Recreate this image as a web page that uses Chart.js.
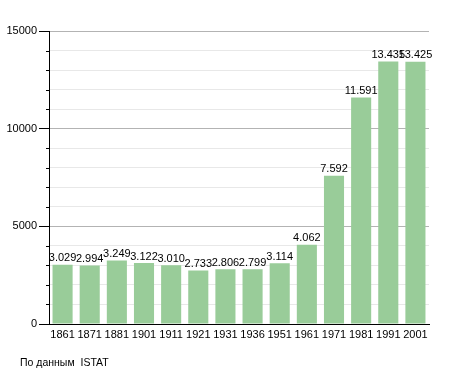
<!DOCTYPE html>
<html>
<head>
<meta charset="utf-8">
<script src="https://cdn.jsdelivr.net/npm/chart.js@4/dist/chart.umd.min.js"></script>
<style>
  body { margin: 0; background: #fff; }
  #wrap { position: relative; width: 455px; height: 373px; }
  #note { position: absolute; left: 20px; top: 356px; font: 10.5px "Liberation Sans", Arial, sans-serif; color: #000; }
</style>
</head>
<body>
<div id="wrap">
  <canvas id="chart" width="455" height="373"></canvas>
  <div id="note">По данным&nbsp; ISTAT</div>
</div>
<script>
// dati censimento
const anni = ['1861', '1871', '1881', '1901', '1911', '1921', '1931', '1936', '1951', '1961', '1971', '1981', '1991', '2001'];
const abitanti = [3029, 2994, 3249, 3122, 3010, 2733, 2806, 2799, 3114, 4062, 7592, 11591, 13435, 13425];
const yTicks = [0, 5000, 10000, 15000];

const font = { family: '"Liberation Sans", Arial, sans-serif', size: 11 };

function fmt(v) {
  return String(v).replace(/\B(?=(\d{3})+(?!\d))/g, '.');
}

// etichette sopra le barre + tacche minori
const labelsPlugin = {
  id: 'barLabels',
  afterDatasetsDraw(chart) {
    const c = chart.ctx;
    const meta = chart.getDatasetMeta(0);
    c.save();
    c.font = '11px "Liberation Sans", Arial, sans-serif';
    c.fillStyle = '#000';
    c.textAlign = 'center';
    c.textBaseline = 'bottom';
    meta.data.forEach((bar, i) => {
      c.fillText(fmt(abitanti[i]), bar.x, bar.y - 1);
    });
    c.restore();
  },
  afterDraw(chart) {
    const y = chart.scales.y;
    const c = chart.ctx;
    c.save();
    c.strokeStyle = '#000';
    c.lineWidth = 1;
    y.ticks.forEach(t => {
      if (t.value % 5000 !== 0) {
        const py = Math.round(y.getPixelForValue(t.value)) + 0.5;
        c.beginPath();
        c.moveTo(y.right - 3, py);
        c.lineTo(y.right, py);
        c.stroke();
      }
    });
    c.restore();
  }
};

new Chart(document.getElementById('chart'), {
  type: 'bar',
  data: {
    labels: anni,
    datasets: [{
      data: abitanti,
      backgroundColor: '#99cc99',
      borderWidth: 0,
      barPercentage: 0.74,
      categoryPercentage: 1
    }]
  },
  options: {
    responsive: false,
    animation: false,
    layout: { padding: { top: 31, right: 26, bottom: 0, left: 0 } },
    plugins: { legend: { display: false }, tooltip: { enabled: false } },
    scales: {
      x: {
        afterFit(s) { s.height = 49; },
        grid: { display: false, drawTicks: false },
        border: { color: '#000', width: 1 },
        ticks: { color: '#000', font: font, padding: 4, maxRotation: 0, autoSkip: false }
      },
      y: {
        min: 0,
        max: 15000,
        afterFit(s) { s.width = 49; },
        grid: {
          color: ctx => (ctx.tick && ctx.tick.value % 5000 === 0) ? '#b3b3b3' : '#e8e8e8',
          tickColor: ctx => (ctx.tick && ctx.tick.value % 5000 === 0) ? '#000' : 'rgba(0,0,0,0)',
          tickLength: 10
        },
        border: { color: '#000', width: 1 },
        ticks: {
          stepSize: 1000,
          color: '#000',
          font: font,
          padding: 2,
          callback: v => yTicks.includes(v) ? String(v) : ''
        }
      }
    }
  },
  plugins: [labelsPlugin]
});
</script>
</body>
</html>
